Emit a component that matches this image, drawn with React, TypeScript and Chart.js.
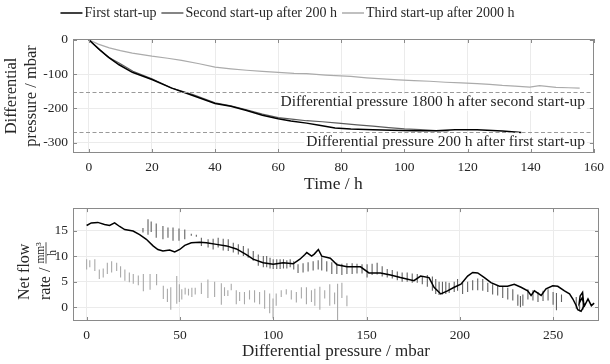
import React, { useEffect, useRef } from "react";
import { Chart, registerables } from "chart.js";

Chart.register(...registerables);

// ---------- shared labels / ticks ----------
const LEGEND_LABELS = ["First start-up", "Second start-up after 200 h", "Third start-up after 2000 h"];
const SERIES_COLORS = ["#000000", "#5c5c5c", "#ababab"];
const TOP_X_TICKS = [0, 20, 40, 60, 80, 100, 120, 140, 160];
const TOP_Y_TICKS = [0, -100, -200, -300];
const BOT_X_TICKS = [0, 50, 100, 150, 200, 250];
const BOT_Y_TICKS = [0, 5, 10, 15];
const REF_LEVELS = [-152, -270];
const REF_LABELS = [
  "Differential pressure 1800 h after second start-up",
  "Differential pressure 200 h after first start-up",
];

// ---------- top: differential pressure vs time ----------
const TIME_1 = [0, 3.4, 6.5, 9.6, 13.8, 20, 26.3, 32.5, 40, 45, 50, 55, 60, 64, 69, 73, 78, 83, 90, 96, 103, 110, 116, 123, 131, 137];
const DP_1 = [0, -29, -53, -73, -95, -116, -141, -161, -186, -194, -206, -220, -230, -237, -243, -249, -257, -260, -262, -264, -265, -265, -262, -262, -266, -270];
const TIME_2 = [0, 3, 6, 10, 14, 20, 26, 33, 40, 45, 50, 55, 60, 65, 69, 74, 79, 85, 90, 95, 100, 105, 110, 114];
const DP_2 = [0, -26, -50, -70, -92, -114, -140, -160, -184, -193, -204, -217, -227, -232, -236, -239, -243, -248, -252, -256, -260, -262, -265, -266];
const TIME_3 = [0, 3, 6.5, 10, 13.8, 20, 25, 29.4, 35, 40, 45, 50, 55, 60, 65, 69, 75, 83, 88, 93, 98, 103, 108, 113, 118, 123, 127, 131, 135, 139.7, 142.8, 145, 148, 152, 155.5];
const DP_3 = [0, -13, -24, -32, -39, -48, -54, -60, -70, -80, -85, -89, -92, -95, -98, -99, -103, -107, -111, -114, -117, -119, -121, -124, -126, -128, -130, -133, -135, -138, -134, -136, -139, -140, -141];

// ---------- bottom: net flow rate vs differential pressure ----------
const FLOW_P1 = [0, 2.5, 6, 9.6, 12.3, 15, 17.7, 20.4, 24.9, 28.4, 32, 35.6, 38.2, 40.9, 44.5, 47.2, 49.9, 52.6, 56.1, 60.6, 64.2, 69.6, 75, 80.3, 85.6, 89.2, 94.6, 100, 105.3, 110.7, 114.3, 117, 118, 120.6, 122, 124.2, 126, 130.6, 134.2, 139.6, 146.8, 151.3, 157.5, 162.9, 168.2, 175.4, 179, 183.5, 186.2, 189.8, 193.4, 197, 200.6, 204.2, 206.9, 209.6, 213.2, 216.7, 221.2, 225.6, 229.2, 232.8, 236.4, 238.2, 240, 243.6, 246.2, 249.8, 252.5, 256.1, 258.8, 260.6, 262.4, 263.2, 265, 266.5, 265.8, 264.5, 264, 265.5, 266.9, 268.7, 270.5, 272];
const FLOW_Q1 = [16.0, 16.5, 16.6, 16.2, 16.0, 16.5, 15.8, 15.2, 14.9, 14.2, 13.3, 12.0, 11.3, 11.0, 11.2, 10.8, 11.3, 12.1, 12.6, 12.7, 12.6, 12.3, 12.0, 11.4, 10.3, 9.4, 8.7, 8.4, 8.7, 8.5, 9.4, 10.3, 10.7, 10.0, 10.4, 11.3, 10.0, 9.6, 8.3, 7.9, 7.9, 6.7, 6.7, 6.3, 5.8, 5.2, 6.1, 5.8, 3.9, 2.6, 3.2, 3.9, 4.5, 6.1, 6.8, 6.7, 5.8, 4.8, 4.1, 4.1, 4.5, 3.9, 3.2, 2.3, 3.2, 2.3, 3.6, 4.2, 4.1, 3.2, 2.6, 1.6, 0.3, -0.5, -0.8, 0.2, 2.9, 2.2, 0.8, 1.8, 0.3, 1.6, 0.3, 0.8];

const HATCH2_P = [30.2, 32.9, 34.6, 37.3, 40.9, 43.6, 46.3, 49.5, 52.6, 56.1, 58.8, 61.5, 65.1, 67.8, 70.5, 73.2, 75.9, 78.6, 81.3, 84, 86.6, 89.3, 92, 94.7, 96.5, 98.3, 100, 101.9, 103.7, 105.5, 107.3, 109.1, 111, 113.3, 116, 118.7, 121.4, 124.1, 126, 128.7, 131.4, 134.1, 136.8, 139.5, 142.3, 144.9, 147.6, 150.3, 153, 155.7, 158.4, 161.1, 163.8, 166.5, 169.1, 171.8, 174.5, 177.2, 179.9, 182.6, 185.3, 187.1, 188.9, 190.7, 192.5, 194.3, 197, 198.8, 201.5, 204.2, 206.9, 209.6, 212.3, 215, 217.6, 220.3, 223, 225.7, 228.4, 231.1, 232.5, 233.8, 236.5, 239.2, 241.9, 244.6, 247.3, 250, 251.8, 254.5, 262.4, 264.2, 266];
const HATCH2_HI = [15.5, 17.2, 16.8, 16.4, 15.9, 15.6, 15.6, 15.4, 15.2, 14.4, 14.2, 13.6, 13.3, 13.4, 13.6, 13.4, 13.3, 12.6, 12.3, 12.0, 11.5, 11.0, 10.3, 10.0, 10.0, 9.7, 9.4, 9.4, 9.4, 9.4, 9.2, 9.4, 9.0, 8.4, 8.6, 8.8, 9.0, 9.2, 9.8, 9.0, 8.8, 8.7, 8.5, 8.6, 8.6, 8.5, 8.4, 8.4, 8.5, 8.7, 8.0, 7.5, 7.3, 7.0, 6.8, 6.8, 6.6, 6.5, 6.1, 6.3, 6.0, 5.5, 5.0, 5.0, 5.0, 4.8, 5.0, 5.5, 4.8, 5.0, 5.3, 5.6, 5.5, 4.8, 4.5, 4.2, 4.0, 3.8, 3.5, 2.5, 2.2, 2.5, 3.5, 3.3, 3.0, 3.2, 3.5, 3.0, 2.8, 2.5, 2.0, 1.5, 1.8];
const HATCH2_LO = [14.6, 14.2, 14.7, 13.6, 13.3, 13.6, 13.0, 13.0, 13.3, 14.0, 13.8, 12.0, 11.7, 11.3, 11.7, 11.1, 11.0, 10.7, 10.3, 10.0, 9.7, 9.1, 8.1, 7.8, 7.8, 7.6, 7.5, 7.5, 7.5, 7.6, 7.6, 7.8, 7.4, 6.7, 6.8, 7.0, 7.2, 7.4, 7.2, 7.0, 6.5, 6.5, 6.3, 6.5, 6.5, 6.6, 6.6, 5.8, 6.3, 6.4, 6.0, 5.8, 5.6, 5.3, 5.0, 5.0, 4.8, 4.8, 4.5, 4.0, 3.2, 2.6, 2.4, 2.5, 2.6, 2.8, 3.0, 3.2, 2.6, 3.0, 3.3, 3.3, 3.2, 3.0, 2.5, 2.3, 1.8, 1.5, 1.3, 0.3, 0.0, 0.3, 1.5, 1.3, 1.0, 1.2, 1.3, 0.5, -0.6, 1.0, -0.3, -0.8, -0.5];

const HATCH3_P = [0, 1.7, 4.4, 6.8, 8.9, 11.1, 13.4, 16.1, 18.2, 20.5, 22.9, 25, 27.7, 30.4, 34, 37.5, 41.1, 43.3, 45.1, 48.3, 49.7, 51, 52.8, 54.6, 56.4, 58.2, 61.5, 65, 68.6, 72.2, 73.9, 75.7, 77.5, 80.2, 82, 84.6, 87.3, 90, 92.7, 95.4, 98.1, 99.9, 101.6, 104.3, 107, 109.7, 112.4, 115.1, 117.8, 120.5, 122.3, 125, 127.6, 130.3, 132.9, 134.5, 136.8, 139.5];
const HATCH3_HI = [9.4, 9.2, 9.4, 7.4, 7.6, 8.7, 9.0, 8.7, 8.0, 7.4, 6.8, 6.5, 6.2, 6.5, 6.5, 6.5, 4.2, 3.6, 3.9, 6.1, 4.5, 3.5, 3.8, 3.6, 3.8, 3.8, 4.8, 5.4, 5.0, 4.7, 3.9, 3.3, 4.6, 3.3, 3.0, 3.0, 3.3, 3.3, 3.0, 3.3, 2.7, 1.7, 2.7, 3.3, 3.5, 3.3, 3.0, 3.9, 3.9, 3.3, 3.6, 4.0, 3.3, 4.5, 2.9, 4.6, 4.8, 2.3];
const HATCH3_LO = [7.4, 7.8, 7.1, 5.5, 5.8, 6.5, 6.8, 7.1, 5.8, 5.2, 4.9, 4.6, 4.3, 3.1, 3.4, 4.3, 1.6, 1.0, -0.5, 0.7, 1.0, 1.5, 2.5, 2.3, 2.0, 2.5, 2.6, 1.8, 2.0, 0.5, 2.2, 2.2, 3.3, 0.6, 1.2, 0.6, 1.5, 0.9, 0.6, -0.3, -1.2, -2.2, 0.3, 2.0, 2.5, 1.5, 0.9, 1.7, 0.6, 1.0, 0.3, -0.5, 1.7, 0.3, 0.6, -2.5, 1.8, 0.2];

// ---------- style ----------
const FONT = "'Liberation Serif', 'DejaVu Serif', serif";
const TEXT = "#262626";
const GRID = "#ebebeb";
const FRAME = "#8a8a8a";
const W = 610;
const TOP_H = 195;
const BOT_H = 169;

function pairs(xs: number[], ys: number[]) {
  const n = Math.min(xs.length, ys.length);
  const out: any[] = [];
  for (let i = 0; i < n; i++) out.push({ x: xs[i], y: ys[i] });
  return out;
}

function sticks(xs: number[], hi: number[], lo: number[]) {
  const n = Math.min(xs.length, hi.length, lo.length);
  const out: any[] = [];
  for (let i = 0; i < n; i++) {
    out.push({ x: xs[i], y: hi[i] }, { x: xs[i], y: lo[i] }, { x: xs[i], y: null });
  }
  return out;
}

function drawFrame(chart: any, xt: number[], yt: number[]) {
  const { ctx, chartArea: a, scales } = chart;
  const L = 4;
  ctx.save();
  ctx.strokeStyle = FRAME;
  ctx.lineWidth = 1;
  ctx.beginPath();
  for (const v of xt) {
    const p = Math.round(scales.x.getPixelForValue(v)) + 0.5;
    ctx.moveTo(p, a.bottom);
    ctx.lineTo(p, a.bottom - L);
    ctx.moveTo(p, a.top);
    ctx.lineTo(p, a.top + L);
  }
  for (const v of yt) {
    const p = Math.round(scales.y.getPixelForValue(v)) + 0.5;
    ctx.moveTo(a.left, p);
    ctx.lineTo(a.left + L, p);
    ctx.moveTo(a.right, p);
    ctx.lineTo(a.right - L, p);
  }
  ctx.stroke();
  ctx.strokeRect(Math.round(a.left) + 0.5, Math.round(a.top) + 0.5, Math.round(a.right - a.left) - 1, Math.round(a.bottom - a.top) - 1);
  ctx.restore();
}

function rotText(ctx: any, text: string, x: number, y: number, align: string) {
  ctx.save();
  ctx.translate(x, y);
  ctx.rotate(-Math.PI / 2);
  ctx.textAlign = align;
  ctx.textBaseline = "middle";
  ctx.fillText(text, 0, 0);
  ctx.restore();
}

const topDecor = {
  id: "topDecor",
  afterDatasetsDraw(chart: any) {
    const { ctx, chartArea: a, scales } = chart;
    ctx.save();
    ctx.strokeStyle = "#9a9a9a";
    ctx.lineWidth = 1;
    ctx.setLineDash([4, 2.5]);
    REF_LEVELS.forEach((lv) => {
      const py = Math.round(scales.y.getPixelForValue(lv)) + 0.5;
      ctx.beginPath();
      ctx.moveTo(a.left, py);
      ctx.lineTo(a.right, py);
      ctx.stroke();
    });
    ctx.setLineDash([]);
    ctx.font = `15.5px ${FONT}`;
    ctx.textBaseline = "middle";
    ctx.textAlign = "right";
    REF_LEVELS.forEach((lv, i) => {
      const py = scales.y.getPixelForValue(lv) + 10;
      const tx = a.right - 9;
      const w = ctx.measureText(REF_LABELS[i]).width;
      ctx.fillStyle = "#ffffff";
      ctx.fillRect(tx - w - 2, py - 8, w + 4, 17);
      ctx.fillStyle = TEXT;
      ctx.fillText(REF_LABELS[i], tx, py);
    });
    ctx.restore();
    drawFrame(chart, TOP_X_TICKS, TOP_Y_TICKS);
  },
  afterDraw(chart: any) {
    const { ctx, chartArea: a } = chart;
    ctx.save();
    ctx.fillStyle = TEXT;
    ctx.font = `14px ${FONT}`;
    ctx.textBaseline = "middle";
    ctx.textAlign = "left";
    const lineW = 22, gap = 2, sep = 5;
    const ds = chart.data.datasets;
    let total = 0;
    ds.forEach((d: any, i: number) => {
      total += lineW + gap + ctx.measureText(d.label).width + (i < ds.length - 1 ? sep : 0);
    });
    let x = 287.5 - total / 2;
    const ly = 13;
    ds.forEach((d: any) => {
      ctx.strokeStyle = d.borderColor;
      ctx.lineWidth = 1.5;
      ctx.beginPath();
      ctx.moveTo(x, ly);
      ctx.lineTo(x + lineW, ly);
      ctx.stroke();
      x += lineW + gap;
      ctx.fillStyle = TEXT;
      ctx.fillText(d.label, x, ly);
      x += ctx.measureText(d.label).width + sep;
    });
    ctx.font = `17.5px ${FONT}`;
    ctx.textAlign = "center";
    ctx.fillText("Time / h", (a.left + a.right) / 2, a.bottom + 31);
    ctx.font = `16.5px ${FONT}`;
    rotText(ctx, "Differential", 12, (a.top + a.bottom) / 2, "center");
    rotText(ctx, "pressure / mbar", 32, (a.top + a.bottom) / 2, "center");
    ctx.restore();
  },
};

const botDecor = {
  id: "botDecor",
  afterDatasetsDraw(chart: any) {
    drawFrame(chart, BOT_X_TICKS, BOT_Y_TICKS);
  },
  afterDraw(chart: any) {
    const { ctx, chartArea: a } = chart;
    ctx.save();
    ctx.fillStyle = TEXT;
    ctx.font = `17px ${FONT}`;
    ctx.textAlign = "center";
    ctx.textBaseline = "middle";
    ctx.fillText("Differential pressure / mbar", (a.left + a.right) / 2, a.bottom + 31);
    ctx.font = `16px ${FONT}`;
    const base = a.bottom - 21;
    rotText(ctx, "Net flow", 25, base, "left");
    ctx.save();
    ctx.translate(46, base);
    ctx.rotate(-Math.PI / 2);
    ctx.textAlign = "left";
    ctx.textBaseline = "middle";
    const pre = "rate / ";
    ctx.fillText(pre, 0, 0);
    const w0 = ctx.measureText(pre).width;
    ctx.font = `11.5px ${FONT}`;
    const num = "mm³";
    const fw = ctx.measureText(num).width;
    ctx.textAlign = "center";
    ctx.textBaseline = "alphabetic";
    ctx.fillText(num, w0 + fw / 2, -2);
    ctx.textBaseline = "top";
    ctx.fillText("h", w0 + fw / 2, 1.5);
    ctx.strokeStyle = TEXT;
    ctx.lineWidth = 0.8;
    ctx.beginPath();
    ctx.moveTo(w0, 0);
    ctx.lineTo(w0 + fw, 0);
    ctx.stroke();
    ctx.restore();
    ctx.restore();
  },
};

function makeScales(xr: number[], yr: number[], xt: number[], yt: number[], yWidth: number, xHeight: number) {
  const tickFont = { family: FONT, size: 13.5 };
  return {
    x: {
      type: "linear",
      min: xr[0],
      max: xr[1],
      afterBuildTicks: (s: any) => {
        s.ticks = xt.map((v) => ({ value: v }));
      },
      afterFit: (s: any) => {
        s.height = xHeight;
      },
      grid: { color: GRID, drawTicks: false },
      border: { display: false },
      ticks: { font: tickFont, color: TEXT, padding: 6, maxRotation: 0 },
    },
    y: {
      type: "linear",
      min: yr[0],
      max: yr[1],
      afterBuildTicks: (s: any) => {
        s.ticks = yt.map((v) => ({ value: v }));
      },
      afterFit: (s: any) => {
        s.width = yWidth;
      },
      grid: { color: GRID, drawTicks: false },
      border: { display: false },
      ticks: { font: tickFont, color: TEXT, padding: 5 },
    },
  };
}

export default function App() {
  const topRef = useRef<HTMLCanvasElement | null>(null);
  const botRef = useRef<HTMLCanvasElement | null>(null);

  useEffect(() => {
    const top = new Chart(topRef.current as HTMLCanvasElement, {
      type: "line",
      data: {
        datasets: [
          { label: LEGEND_LABELS[0], data: pairs(TIME_1, DP_1), borderColor: SERIES_COLORS[0], borderWidth: 1.5 },
          { label: LEGEND_LABELS[1], data: pairs(TIME_2, DP_2), borderColor: SERIES_COLORS[1], borderWidth: 1.2 },
          { label: LEGEND_LABELS[2], data: pairs(TIME_3, DP_3), borderColor: SERIES_COLORS[2], borderWidth: 1.2 },
        ] as any,
      },
      options: {
        animation: false,
        responsive: false,
        devicePixelRatio: 1,
        events: [],
        elements: { point: { radius: 0 }, line: { tension: 0 } },
        layout: { padding: { left: 0, right: 10, top: 39, bottom: 0 } },
        plugins: { legend: { display: false }, tooltip: { enabled: false } },
        scales: makeScales([-5, 160], [-330, 2], TOP_X_TICKS, TOP_Y_TICKS, 73, TOP_H - 153) as any,
      },
      plugins: [topDecor],
    });

    const bot = new Chart(botRef.current as HTMLCanvasElement, {
      type: "line",
      data: {
        datasets: [
          { label: LEGEND_LABELS[0], data: pairs(FLOW_P1, FLOW_Q1), borderColor: SERIES_COLORS[0], borderWidth: 1.5 },
          { label: LEGEND_LABELS[1], data: sticks(HATCH2_P, HATCH2_HI, HATCH2_LO), borderColor: "#616161", borderWidth: 1.1 },
          { label: LEGEND_LABELS[2], data: sticks(HATCH3_P, HATCH3_HI, HATCH3_LO), borderColor: "#a9a9a9", borderWidth: 1.1 },
        ] as any,
      },
      options: {
        animation: false,
        responsive: false,
        devicePixelRatio: 1,
        events: [],
        elements: { point: { radius: 0 }, line: { tension: 0 } },
        layout: { padding: { left: 0, right: 11, top: 12, bottom: 0 } },
        plugins: { legend: { display: false }, tooltip: { enabled: false } },
        scales: makeScales([-7.3, 274.6], [-2.7, 19.4], BOT_X_TICKS, BOT_Y_TICKS, 73, BOT_H - 126) as any,
      },
      plugins: [botDecor],
    });

    return () => {
      top.destroy();
      bot.destroy();
    };
  }, []);

  return (
    <div style={{ position: "fixed", left: 0, top: 0, width: W, height: TOP_H + BOT_H, background: "#fff" }}>
      <canvas ref={topRef} width={W} height={TOP_H} style={{ display: "block", width: W, height: TOP_H }} />
      <canvas ref={botRef} width={W} height={BOT_H} style={{ display: "block", width: W, height: BOT_H }} />
    </div>
  );
}
